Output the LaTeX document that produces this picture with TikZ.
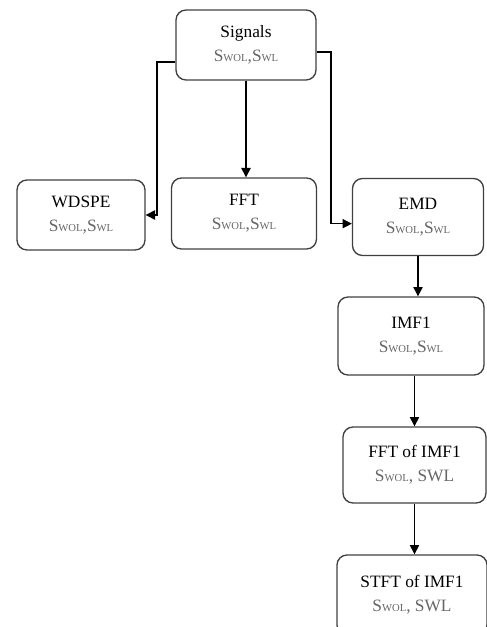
\documentclass[tikz,border=0pt]{standalone}
\usepackage{fontspec}
\setmainfont{Liberation Serif}
\usetikzlibrary{positioning}
\usetikzlibrary{arrows.meta}
\definecolor{boxLine}{rgb}{0.25,0.25,0.25}
\definecolor{subText}{rgb}{0.4,0.4,0.4}
\newcommand{\sw}[1]{S{\footnotesize #1}}

\begin{document}
\begin{tikzpicture}[x=0.75pt,y=-0.75pt]

          \tikzstyle{boxNode} = [draw=boxLine, line width=1pt, rounded corners=7.5pt, align=center, font=\fontsize{13}{18}\selectfont, inner sep=0pt];
          \tikzstyle{normalEdge} = [line width=0.9pt, -{Triangle[length=7pt,width=7pt]}];

          \useasboundingbox (0,0) rectangle (486,627);

          \node[boxNode, minimum width=105pt, minimum height=52.5pt] (sig) at (246,45) {Signals\\ \textcolor{subText}{\sw{WOL},\sw{WL}}};
          \node[boxNode, minimum width=96pt, minimum height=52.5pt] (wdspe) at (81,215) {WDSPE\\ \textcolor{subText}{\sw{WOL},\sw{WL}}};
          \node[boxNode, minimum width=108.75pt, minimum height=53.25pt] (fft) at (244,213.5) {FFT\\ \textcolor{subText}{\sw{WOL},\sw{WL}}};
          \node[boxNode, minimum width=98.25pt, minimum height=57.75pt] (emd) at (418,217) {EMD\\ \textcolor{subText}{\sw{WOL},\sw{WL}}};
          \node[boxNode, minimum width=109.5pt, minimum height=58.5pt] (imf) at (411,336) {IMF1\\ \textcolor{subText}{\sw{WOL},\sw{WL}}};
          \node[boxNode, minimum width=107.25pt, minimum height=57pt] (fftimf) at (414.5,465) {FFT of IMF1\\ \textcolor{subText}{\sw{WOL}, SWL}};
          \node[boxNode, minimum width=112.5pt, minimum height=60pt] (stft) at (412,595) {STFT of IMF1\\ \textcolor{subText}{\sw{WOL}, SWL}};

          \coordinate (lbend) at (157,62);
          \coordinate (rbend) at (331,52);

          \draw[normalEdge] (sig.west |- lbend) -- (lbend) |- (wdspe.east);
          \draw[normalEdge] (sig.south) -- (sig.south |- fft.north);
          \draw[normalEdge] (sig.east |- rbend) -- (rbend) |- ([yshift=-5pt]emd.west);
          \draw[normalEdge] (emd.south) -- (emd.south |- imf.north);
          \draw[normalEdge] (fftimf.north |- imf.south) -- (fftimf.north);
          \draw[normalEdge] (fftimf.south) -- (fftimf.south |- stft.north);
        \end{tikzpicture}
\end{document}
